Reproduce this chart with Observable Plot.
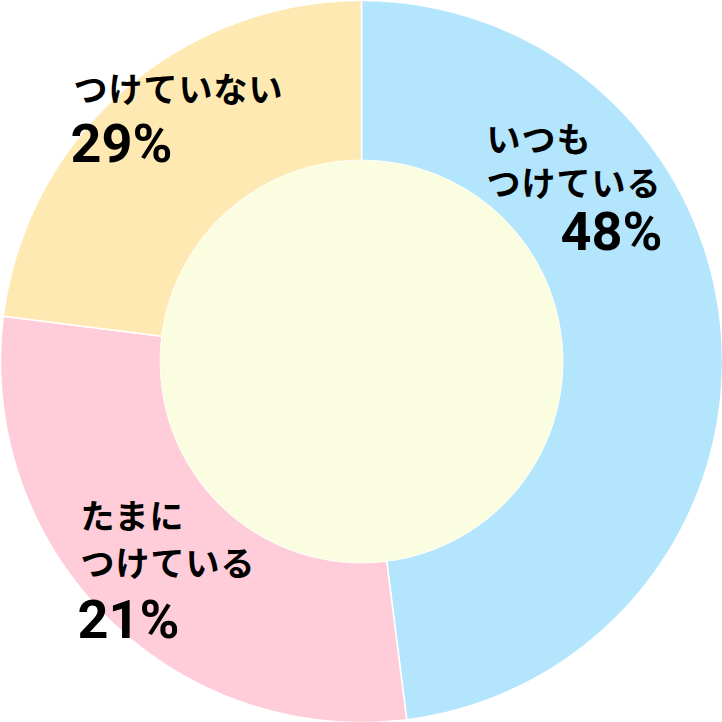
<!DOCTYPE html>
<html><head><meta charset="utf-8">
<script src="https://cdn.jsdelivr.net/npm/d3@7"></script>
<script src="https://cdn.jsdelivr.net/npm/@observablehq/plot@0.6"></script>
<style>body{margin:0;background:#fff}.jp text{letter-spacing:1px}</style>
</head><body><div id="chart"></div>
<script>
// Data (slice sizes as drawn in the picture, clockwise from 12 o'clock)
const categories = ["いつもつけている", "たまにつけている", "つけていない"];
const sliceValues = [48, 29, 23];
const labelLines = [["いつも", "つけている"], ["たまに", "つけている"], ["つけていない"]];
const percentLabels = ["48%", "21%", "29%"];

// Styles
const colors = ["#b3e5fc", "#ffcdd9", "#ffe9b2"];
const innerColor = "#fbfde0";
const innerRatio = 0.557;

const W = 722, C = 361;
const toX = px => (px - C) / C;
const toY = py => (C - py) / C;

// build annular slice polygons from the values
const total = d3.sum(sliceValues);
const poly = [];
let acc = 0;
sliceValues.forEach((v, i) => {
  const a0 = acc / total * 2 * Math.PI, a1 = (acc + v) / total * 2 * Math.PI;
  acc += v;
  const n = 200;
  const pts = [];
  for (let k = 0; k <= n; k++) { const a = a0 + (a1 - a0) * k / n; pts.push([Math.sin(a), Math.cos(a)]); }
  for (let k = n; k >= 0; k--) { const a = a0 + (a1 - a0) * k / n; pts.push([innerRatio * Math.sin(a), innerRatio * Math.cos(a)]); }
  pts.push(pts[0]);
  pts.forEach(([x, y], j) => poly.push({cat: categories[i], x, y, j}));
});
const disc = d3.range(0, 361).map(d => ({x: innerRatio * Math.sin(d * Math.PI / 180), y: innerRatio * Math.cos(d * Math.PI / 180)}));

// label placement (pixel anchors: left x, first-line center y, line step)
const labelPos = [{x: 486, y: 141, step: 44}, {x: 80, y: 518, step: 47}, {x: 73, y: 91, step: 0}];
const jpRows = [];
labelLines.forEach((lines, i) => lines.forEach((t, k) => jpRows.push({t, x: toX(labelPos[i].x), y: toY(labelPos[i].y + k * labelPos[i].step)})));

const pctPos = [{x: 662, y: 232, anchor: "end"}, {x: 77, y: 620, anchor: "start"}, {x: 70, y: 144, anchor: "start"}];
const pctRows = percentLabels.map((t, i) => ({t, x: toX(pctPos[i].x), y: toY(pctPos[i].y), anchor: pctPos[i].anchor}));

const jpFont = "'Noto Sans CJK JP', 'Noto Sans', sans-serif";
const numFont = "Roboto, 'Liberation Sans', sans-serif";

const chart = Plot.plot({
  width: W, height: W, margin: 0,
  x: {domain: [-1, 1], axis: null},
  y: {domain: [-1, 1], axis: null},
  color: {domain: categories, range: colors},
  marks: [
    Plot.line(poly, {x: "x", y: "y", z: "cat", fill: "cat", stroke: "#fff", strokeWidth: 1.5, curve: "linear"}),
    Plot.line(disc, {x: "x", y: "y", fill: innerColor, stroke: "none"}),
    Plot.text(jpRows, {x: "x", y: "y", text: "t", textAnchor: "start", lineAnchor: "middle", fontSize: 34, fontWeight: 700, fontFamily: jpFont, fill: "#000", className: "jp"}),
    Plot.text(pctRows.filter(d => d.anchor === "start"), {x: "x", y: "y", text: "t", textAnchor: "start", lineAnchor: "middle", fontSize: 54, fontWeight: 700, fontFamily: numFont, fill: "#000"}),
    Plot.text(pctRows.filter(d => d.anchor === "end"), {x: "x", y: "y", text: "t", textAnchor: "end", lineAnchor: "middle", fontSize: 54, fontWeight: 700, fontFamily: numFont, fill: "#000"})
  ]
});
document.getElementById("chart").append(chart);
</script>
</body></html>
